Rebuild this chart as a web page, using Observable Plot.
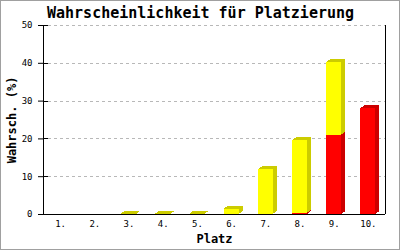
<!DOCTYPE html>
<html><head><meta charset="utf-8">
<script src="https://cdn.jsdelivr.net/npm/d3@7"></script>
<script src="https://cdn.jsdelivr.net/npm/@observablehq/plot@0.6"></script>
<style>
html,body{margin:0;padding:0;background:#fff;}
#wrap{position:relative;width:400px;height:250px;overflow:hidden;}
#border{position:absolute;left:0;top:0;width:400px;height:250px;box-sizing:border-box;border:1px solid #a0a0a0;pointer-events:none;}
</style></head><body>
<div id="wrap"><div id="chart"></div><div id="border"></div></div>
<script>
// ---- data ----
const titleText = "Wahrscheinlichkeit für Platzierung";
const xLabel = "Platz";
const yLabel = "Wahrsch. (%)";
const places = [1, 2, 3, 4, 5, 6, 7, 8, 9, 10];
const placeLabels = ["1.", "2.", "3.", "4.", "5.", "6.", "7.", "8.", "9.", "10."];
const redValues    = [0, 0, 0, 0, 0, 0, 0, 0.3, 21.0, 28.0];
const yellowValues = [0, 0, 0.1, 0.1, 0.1, 1.4, 11.8, 19.2, 19.2, 0];
const yTicks = [0, 10, 20, 30, 40, 50];
const gridTicks = [10, 20, 30, 40, 50];

// ---- style ----
const W = 400, H = 250;
const mL = 43, mR = 15, mT = 25, mB = 36;
const barWidth = 0.44;       // in band units
const DX = 4, DY = 3;         // 3D depth in px
const colors = {
  red: {front: "#ff0000", dark: "#cc0000"},
  yellow: {front: "#ffff00", dark: "#cccc00"}
};
const font = "'DejaVu Sans Mono', 'Liberation Mono', monospace";

function bars3d(index, scales) {
  const {x, y} = scales;
  const g = d3.create("svg:g").attr("shape-rendering", "crispEdges");
  places.forEach((p, i) => {
    const r = redValues[i], yv = yellowValues[i];
    const segs = [
      {v0: 0, v1: r, c: colors.red},
      {v0: r, v1: r + yv, c: colors.yellow}
    ].filter(s => s.v1 > s.v0);
    segs.forEach((s, k) => {
      const xl = x(p - barWidth / 2), xr = x(p + barWidth / 2);
      const yb = y(s.v0), yt = y(s.v1);
      g.append("polygon")
        .attr("points", [[xr, yb], [xr, yt], [xr + DX, yt - DY], [xr + DX, yb - DY]].map(d => d.join(",")).join(" "))
        .attr("fill", s.c.dark);
      if (k === segs.length - 1) {
        g.append("polygon")
          .attr("points", [[xl, yt], [xr, yt], [xr + DX, yt - DY], [xl + DX, yt - DY]].map(d => d.join(",")).join(" "))
          .attr("fill", s.c.dark);
      }
      g.append("rect")
        .attr("x", xl).attr("y", yt)
        .attr("width", xr - xl).attr("height", Math.max(0, yb - yt))
        .attr("fill", s.c.front);
    });
  });
  return g.node();
}

const innerW = W - mL - mR;

const chart = Plot.plot({
  width: W, height: H,
  marginLeft: mL, marginRight: mR, marginTop: mT, marginBottom: mB,
  style: {fontFamily: font, background: "transparent", color: "#000", overflow: "visible"},
  x: {domain: [0.5, 10.5], axis: null},
  y: {domain: [0, 50], axis: null},
  marks: [
    Plot.ruleY(gridTicks, {stroke: "#b8b8b8", strokeDasharray: "3,3", insetLeft: 5, shapeRendering: "crispEdges"}),
    bars3d,
    Plot.ruleY(yTicks, {stroke: "#000", insetRight: innerW - 5, shapeRendering: "crispEdges"}),
    Plot.ruleY([0], {stroke: "#000", strokeWidth: 1.2, shapeRendering: "crispEdges"}),
    Plot.ruleX([0.5], {stroke: "#000", shapeRendering: "crispEdges"}),
    Plot.ruleX([10.5], {stroke: "#000", shapeRendering: "crispEdges"}),
    Plot.axisY({ticks: yTicks, tickSize: 5, tickPadding: 6, fontSize: 9, label: null, fontFamily: font}),
    Plot.axisX({ticks: places, tickFormat: d => placeLabels[d - 1], tickSize: 0, tickPadding: 6, fontSize: 9, label: null, fontFamily: font}),
    Plot.text([xLabel], {text: d => d, frameAnchor: "bottom", textAnchor: "middle", lineAnchor: "middle", dy: 25, fontSize: 12, fontWeight: "bold", fontFamily: font}),
    Plot.text([yLabel], {text: d => d, frameAnchor: "left", textAnchor: "middle", lineAnchor: "middle", rotate: -90, dx: -31, fontSize: 12, fontWeight: "bold", fontFamily: font}),
    Plot.text([titleText], {text: d => d, frameAnchor: "top", textAnchor: "middle", lineAnchor: "middle", dx: -14, dy: -12, fontSize: 15, fontWeight: "bold", fontFamily: font})
  ]
});
document.getElementById("chart").appendChild(chart);
</script>
</body></html>
